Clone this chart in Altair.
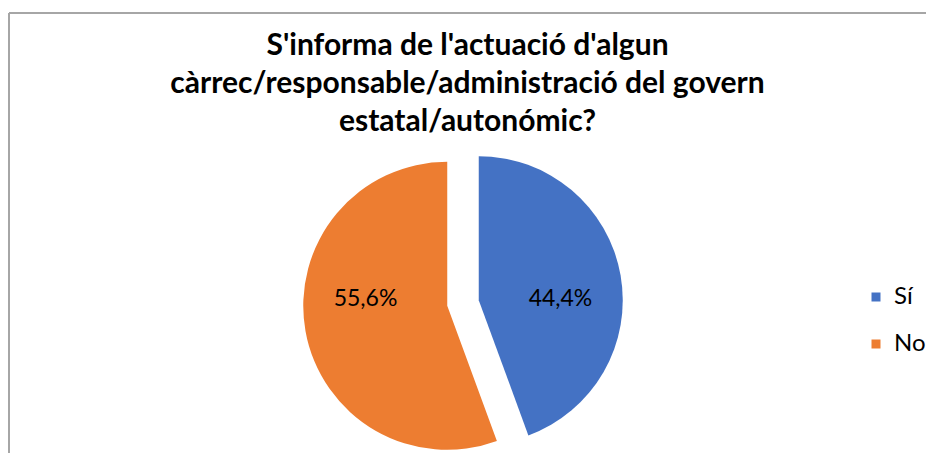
import math
import altair as alt
import pandas as pd

categories = ["Sí", "No"]
values = [44.4, 55.6]
labels = ["44,4%", "55,6%"]
colors = ["#4472C4", "#ED7D31"]
title_lines = [
    "S'informa de l'actuació d'algun",
    "càrrec/responsable/administració del govern",
    "estatal/autonómic?",
]

df = pd.DataFrame({"cat": categories, "value": values, "label": labels, "order": [0, 1]})

W, H = 917, 440
CX, CY = 454, 290      # pie centre inside the view
EXPLODE = 16           # slice explosion distance
R = 144                # pie radius
LABEL_R = 83
TWO_PI = 2 * math.pi

theta_scale = alt.Scale(domain=[0, 100], range=[0, TWO_PI])

base = (
    alt.Chart(df)
    .transform_stack(stack="value", groupby=[], as_=["start", "end"], sort=[alt.SortField("order")])
    .transform_calculate(
        ang=f"(datum.start + datum.end) / 2 / 100 * {TWO_PI}",
    )
    .transform_calculate(
        ox=f"{CX} + {EXPLODE} * sin(datum.ang)",
        oy=f"{CY} - {EXPLODE} * cos(datum.ang)",
        lx=f"{CX} + {EXPLODE} * sin(datum.ang) + {LABEL_R} * sin(datum.ang)",
        ly=f"{CY} - 4",
    )
)

arcs = base.mark_arc(outerRadius=R, strokeWidth=0).encode(
    x=alt.X("ox:Q", scale=None),
    y=alt.Y("oy:Q", scale=None),
    theta=alt.Theta("start:Q", scale=theta_scale),
    theta2="end:Q",
    color=alt.Color(
        "cat:N",
        scale=alt.Scale(domain=categories, range=colors),
        sort=categories,
        legend=alt.Legend(
            title=None,
            orient="none",
            legendX=855,
            legendY=272,
            symbolType="square",
            symbolSize=81,
            symbolStrokeWidth=0,
            labelFont="Lato",
            labelFontSize=24,
            labelColor="#000000",
            labelOffset=6,
            rowPadding=23,
            padding=0,
        ),
    ),
)

texts = base.mark_text(font="Lato", fontSize=23, color="#000000", baseline="middle").encode(
    x=alt.X("lx:Q", scale=None),
    y=alt.Y("ly:Q", scale=None),
    text="label:N",
)

frame_df = pd.DataFrame({"k": [0]})
top_border = alt.Chart(frame_df).mark_rule(color="#A6A6A6", strokeWidth=2).encode(
    x=alt.value(0), x2=alt.value(W), y=alt.value(0)
)
left_border = alt.Chart(frame_df).mark_rule(color="#A6A6A6", strokeWidth=2).encode(
    x=alt.value(0), y=alt.value(0), y2=alt.value(H)
)

chart = (
    alt.layer(arcs, texts, top_border, left_border)
    .properties(
        width=W,
        height=H,
        padding={"left": 1, "top": 5, "right": 0, "bottom": 0},
        autosize=alt.AutoSizeParams(type="none"),
        title=alt.TitleParams(
            text=title_lines,
            font="Lato",
            fontSize=30,
            fontWeight="bold",
            color="#000000",
            lineHeight=38,
            anchor="middle",
            offset=-125,
        ),
    )
    .configure_view(stroke=None)
    .configure(background="white")
)

chart.save("out.html", embed_options={"renderer": "svg", "actions": False})
